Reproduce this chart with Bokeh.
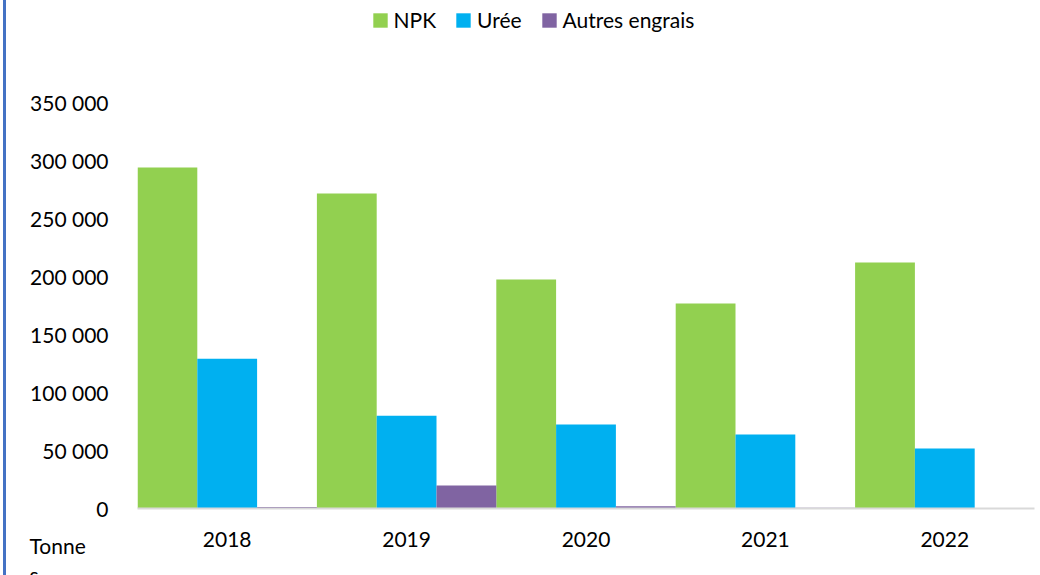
from bokeh.plotting import figure
from bokeh.models import (FactorRange, Range1d, FixedTicker, Legend, LegendItem, Title,
                          ColumnDataSource)
from bokeh.transform import dodge
from bokeh.embed import file_html
from bokeh.resources import INLINE

years = ["2018", "2019", "2020", "2021", "2022"]
npk = [294000, 271500, 197500, 176800, 212000]
uree = [129000, 80000, 72500, 63800, 51700]
autres = [1200, 19800, 2000, 600, 0]
series_names = ["NPK", "Urée", "Autres engrais"]
series_colors = ["#92D050", "#00B0F0", "#8064A2"]
y_ticks = [0, 50000, 100000, 150000, 200000, 250000, 300000, 350000]
y_tick_labels = ["0", "50 000", "100 000", "150 000", "200 000", "250 000", "300 000", "350 000"]
unit_label = "Tonne\ns"

FONT = "Lato"
FSIZE = "21px"
# 350 000 sits 406 px above the baseline; the frame extends 508 px above it
Y_END = 350000 * 508 / 406

source = ColumnDataSource(data=dict(year=years, npk=npk, uree=uree, autres=autres))

p = figure(width=1034, height=575, x_range=FactorRange(*years, range_padding=0),
           y_range=Range1d(0, Y_END), output_backend="svg", toolbar_location=None,
           min_border_left=131, min_border_right=6, min_border_top=0, min_border_bottom=67)
p.styles = {"border-left": "3px solid #4472C4", "margin-left": "3px"}

p.outline_line_color = None
p.xgrid.grid_line_color = None
p.ygrid.grid_line_color = None
p.background_fill_color = "white"
p.border_fill_color = "white"

renderers = []
cols = ["npk", "uree", "autres"]
offsets = [-1/3, 0, 1/3]
for col, off, color in zip(cols, offsets, series_colors):
    r = p.vbar(x=dodge("year", off, range=p.x_range), top=col, width=1/3, source=source,
               fill_color=color, line_color=None)
    renderers.append(r)

# axes
p.yaxis.ticker = FixedTicker(ticks=y_ticks)
p.yaxis.major_label_overrides = {t: l for t, l in zip(y_ticks, y_tick_labels)}
p.yaxis.axis_line_color = None
p.yaxis.major_tick_line_color = None
p.yaxis.minor_tick_line_color = None
p.yaxis.major_label_standoff = 23
p.yaxis.major_label_text_font = FONT
p.yaxis.major_label_text_font_size = FSIZE
p.yaxis.major_label_text_color = "#000000"

p.xaxis.axis_line_color = "#D9D9D9"
p.xaxis.axis_line_width = 2
p.xaxis.major_tick_line_color = None
p.xaxis.minor_tick_line_color = None
p.xaxis.major_label_standoff = 17
p.xaxis.major_label_text_font = FONT
p.xaxis.major_label_text_font_size = FSIZE
p.xaxis.major_label_text_color = "#000000"

legend = Legend(items=[LegendItem(label=n, renderers=[r]) for n, r in zip(series_names, renderers)],
                orientation="horizontal", location=(233.5, 476))
legend.padding = 0
legend.margin = 0
legend.spacing = 18
legend.label_standoff = 5
legend.glyph_width = 18
legend.glyph_height = 18
legend.border_line_color = None
legend.background_fill_alpha = 0
legend.label_text_font = FONT
legend.label_text_font_size = FSIZE
legend.label_text_color = "#000000"
p.add_layout(legend, "center")

unit_title = Title(text=unit_label, align="left", offset=-108, standoff=-37,
                   text_font=FONT, text_font_size=FSIZE, text_font_style="normal",
                   text_color="#000000", text_line_height=1.15)
p.add_layout(unit_title, "below")

open("out.html", "w").write(file_html(p, INLINE))
